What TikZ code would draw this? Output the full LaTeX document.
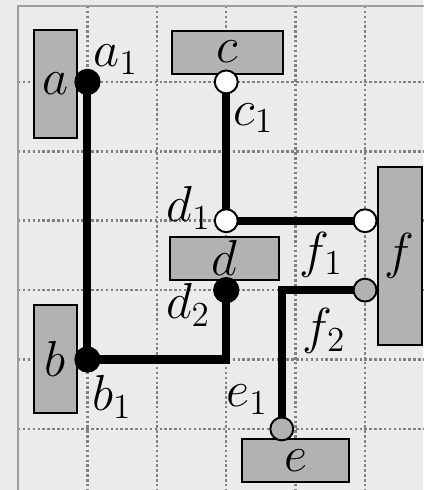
\documentclass[tikz,border=0pt]{standalone}

\begin{document}
\begin{tikzpicture}[
    font=\fontsize{22}{26}\selectfont,
    block/.style={rectangle, draw, line width=0.8pt, fill=black!30, inner sep=0pt},
    vblock/.style={block, minimum width=0.63cm, minimum height=1.55cm},
    hblock/.style={block, minimum width=1.58cm, minimum height=0.62cm},
    joint/.style={circle, draw, line width=0.8pt, minimum size=0.33cm, inner sep=0pt},
    jointb/.style={joint, fill=black, minimum size=0.35cm},
    jointw/.style={joint, fill=white},
    jointg/.style={joint, fill=black!30},
    wire/.style={line width=3.3pt},
    gridline/.style={black!50, line width=1pt, dash pattern=on 1pt off 1pt},
    lbl/.style={inner sep=0pt}
]

    % Fondo
    \fill[black!8] (-0.26,-0.88) rectangle (5.84,6.18);
    \useasboundingbox (-0.26,-0.88) rectangle (5.84,6.18);
    \foreach \x in {1,...,5}
        \draw[gridline] (\x,6.095) -- (\x,-1);
    \foreach \y in {0,...,5}
        \draw[gridline] (0,\y) -- (6,\y);
    \draw[black!38, line width=0.8pt] (0,-1) -- (0,6.095) -- (6,6.095);

    % Bloques
    \node[vblock] (a) at (0.54,4.97) {$a$};
    \node[vblock] (b) at (0.54,1.01) {$b$};
    \node[hblock, minimum width=1.6cm] (c) at (3.02,5.43) {$c$};
    \node[hblock, minimum width=1.57cm] (d) at (2.97,2.46) {$d$};
    \node[hblock, minimum width=1.54cm] (e) at (4.0,-0.45) {$e$};
    \node[vblock, minimum height=2.57cm] (f) at (5.5,2.49) {$f$};

    % Puntos
    \coordinate (pa1) at (1,5);
    \coordinate (pb1) at (1,1);
    \coordinate (pc1) at (3,5);
    \coordinate (pd1) at (3,3);
    \coordinate (pd2) at (3,2);
    \coordinate (pf1) at (5,3);
    \coordinate (pf2) at (5,2);
    \coordinate (pe1) at (3.8,0);

    % Conexiones
    \draw[wire] (pa1) -- (pb1) -| (pd2);
    \draw[wire] (pc1) -- (pd1) -- (pf1);
    \draw[wire] (pf2) -| (pe1);

    \node[jointb] (a1) at (pa1) {};
    \node[jointb] (b1) at (pb1) {};
    \node[jointw] (c1) at (pc1) {};
    \node[jointw] (d1) at (pd1) {};
    \node[jointb] (d2) at (pd2) {};
    \node[jointw] (f1) at (pf1) {};
    \node[jointg] (f2) at (pf2) {};
    \node[jointg] (e1) at (pe1) {};

    % Etiquetas
    \node[lbl] (la1) at (1.41,5.32) {$a_1$};
    \node[lbl] (lc1) at (3.39,4.48) {$c_1$};
    \node[lbl] (ld1) at (2.46,3.18) {$d_1$};
    \node[lbl] (lf1) at (4.37,2.51) {$f_1$};
    \node[lbl] (ld2) at (2.45,1.79) {$d_2$};
    \node[lbl] (lf2) at (4.41,1.41) {$f_2$};
    \node[lbl] (lb1) at (1.35,0.46) {$b_1$};
    \node[lbl] (le1) at (3.30,0.42) {$e_1$};

\end{tikzpicture}
\end{document}
